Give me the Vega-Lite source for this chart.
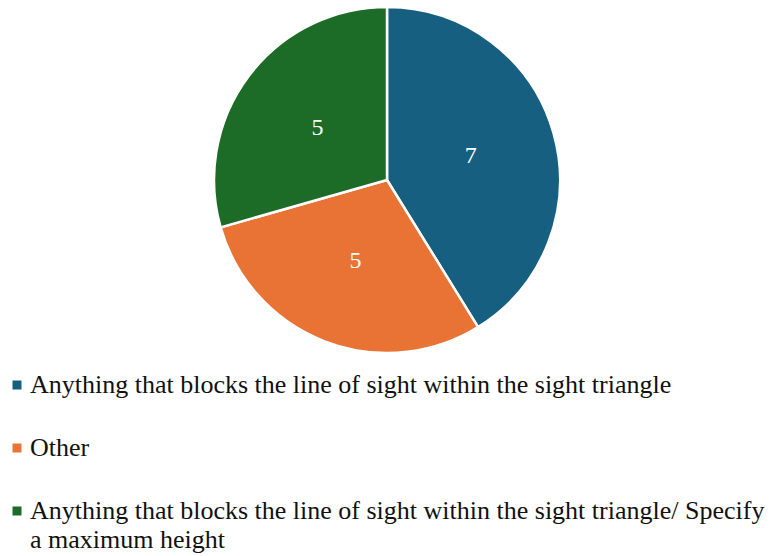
{
  "$schema": "https://vega.github.io/schema/vega-lite/v6.json",
  "width": 774,
  "height": 360,
  "padding": 0,
  "autosize": {"type": "pad"},
  "background": "white",
  "data": {
    "values": [
      {"category": "Anything that blocks the line of sight within the sight triangle", "count": 7, "o": 1},
      {"category": "Other", "count": 5, "o": 2},
      {"category": "Anything that blocks the line of sight within the sight triangle/ Specify a maximum height", "count": 5, "o": 3}
    ]
  },
  "encoding": {
    "theta": {"field": "count", "type": "quantitative", "stack": true},
    "order": {"field": "o", "type": "quantitative"},
    "color": {
      "field": "category",
      "type": "nominal",
      "scale": {
        "domain": [
          "Anything that blocks the line of sight within the sight triangle",
          "Other",
          "Anything that blocks the line of sight within the sight triangle/ Specify a maximum height"
        ],
        "range": ["#175f80", "#e97334", "#1c6b27"]
      },
      "legend": {
        "title": null,
        "orient": "none",
        "legendX": 4,
        "legendY": 372,
        "direction": "vertical",
        "symbolType": "square",
        "symbolSize": 81,
        "symbolStrokeWidth": 0,
        "labelFont": "'Liberation Serif', serif",
        "labelFontSize": 26,
        "labelColor": "#111111",
        "labelLimit": 800,
        "labelOffset": 0,
        "rowPadding": 37,
        "labelExpr": "datum.label === 'Anything that blocks the line of sight within the sight triangle/ Specify a maximum height' ? ['Anything that blocks the line of sight within the sight triangle/ Specify', 'a maximum height'] : datum.label"
      }
    }
  },
  "layer": [
    {
      "mark": {"type": "arc", "outerRadius": 173, "stroke": "white", "strokeWidth": 2.5}
    },
    {
      "mark": {"type": "text", "radius": 87, "font": "'Liberation Serif', serif", "fontSize": 24},
      "encoding": {
        "text": {"field": "count", "type": "quantitative"},
        "color": {"value": "white"}
      }
    }
  ],
  "config": {
    "view": {"stroke": null},
    "style": {"guide-label": {"lineHeight": 29}}
  }
}
